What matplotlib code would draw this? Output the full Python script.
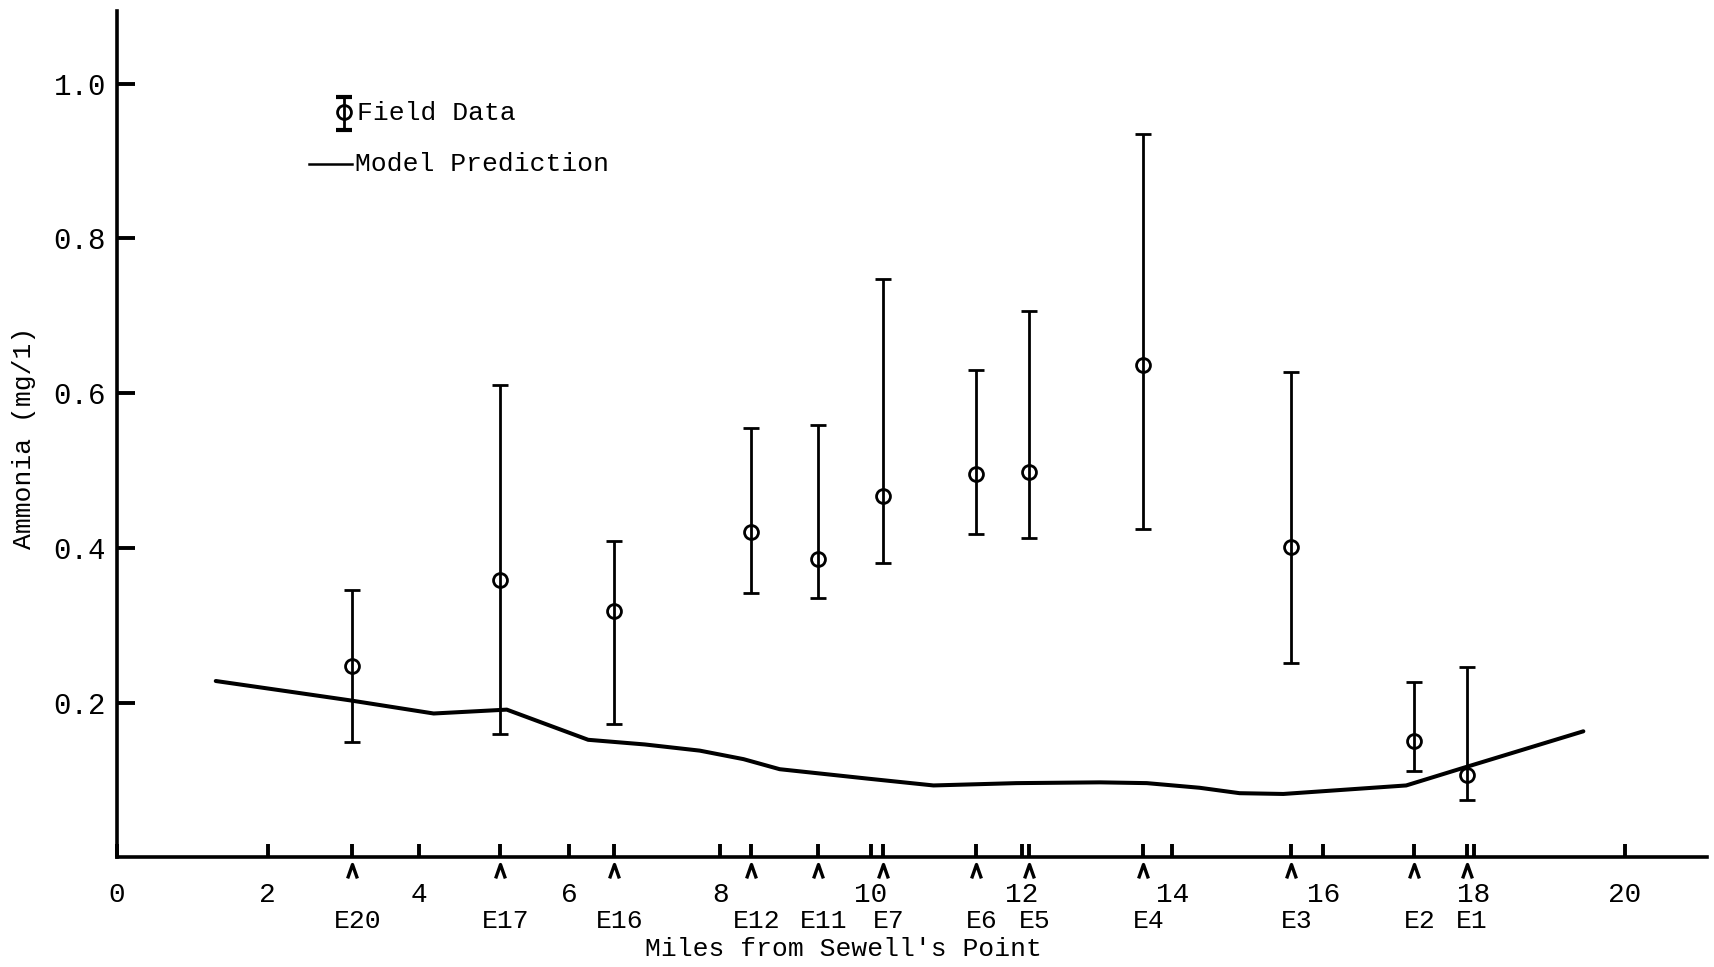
import matplotlib
matplotlib.use("Agg")
import matplotlib.pyplot as plt

# Sampling stations along the river (miles from Sewell's Point)
stations = ["E20", "E17", "E16", "E12", "E11", "E7", "E6", "E5", "E4", "E3", "E2", "E1"]
station_mile = [3.12, 5.08, 6.59, 8.41, 9.30, 10.16, 11.39, 12.10, 13.61, 15.57, 17.21, 17.90]

# Field data: mean ammonia with observed range (mg/l)
field_mean = [0.248, 0.359, 0.319, 0.420, 0.386, 0.467, 0.495, 0.498, 0.637, 0.401, 0.150, 0.107]
field_high = [0.345, 0.610, 0.409, 0.555, 0.559, 0.748, 0.630, 0.706, 0.935, 0.628, 0.227, 0.246]
field_low = [0.149, 0.160, 0.172, 0.342, 0.335, 0.380, 0.418, 0.413, 0.424, 0.251, 0.112, 0.074]

# Model prediction profile
model_mile = [1.31, 1.81, 2.38, 3.09, 4.20, 5.17, 6.25, 7.00, 7.73, 8.31, 8.79, 9.94,
              10.83, 11.93, 13.04, 13.66, 14.36, 14.89, 15.47, 17.10, 17.90, 19.45]
model_val = [0.228, 0.221, 0.213, 0.203, 0.186, 0.191, 0.152, 0.146, 0.138, 0.127, 0.114, 0.102,
             0.093, 0.096, 0.097, 0.096, 0.090, 0.083, 0.082, 0.093, 0.117, 0.163]

mile_ticks = list(range(0, 21, 2))
mile_labels = [str(m) for m in mile_ticks]
conc_ticks = [0.2, 0.4, 0.6, 0.8, 1.0]
conc_labels = ["0.2", "0.4", "0.6", "0.8", "1.0"]

plt.rcParams["font.family"] = ["Liberation Mono", "DejaVu Sans Mono"]

W, H = 1714, 967
fig = plt.figure(figsize=(W / 100, H / 100), dpi=100)
ax_left, ax_bottom, ax_right, ax_top = 117, 857.4, 1707, 11
ax = fig.add_axes([ax_left / W, 1 - ax_bottom / H, (ax_right - ax_left) / W, (ax_bottom - ax_top) / H])

ax.set_xlim(0, 21.09)
ax.set_ylim(0, 1.094)

# Model curve
ax.plot(model_mile, model_val, color="black", lw=2.9,
        solid_joinstyle="round", solid_capstyle="round", zorder=3)

# Field data with range bars
yerr = [[m - l for m, l in zip(field_mean, field_low)],
        [h - m for m, h in zip(field_mean, field_high)]]
ax.errorbar(station_mile, field_mean, yerr=yerr, fmt="o", color="black",
            mfc="none", mec="black", ms=10, mew=2.0, elinewidth=2.0,
            capsize=5.5, capthick=3.0, zorder=4)

# Axes styling
for side in ("top", "right"):
    ax.spines[side].set_visible(False)
for side in ("left", "bottom"):
    ax.spines[side].set_linewidth(2.6)

ax.set_xticks(mile_ticks)
ax.set_xticklabels(mile_labels)
ax.set_xticks(station_mile, minor=True)
ax.tick_params(axis="x", which="both", direction="in", length=9.5, width=2.8,
               pad=17.5, labelsize=20)
ax.set_yticks(conc_ticks)
ax.set_yticklabels(conc_labels)
ax.tick_params(axis="y", direction="in", length=13, width=2.8, pad=8, labelsize=21)

# Station carets and names below the axis
xt = ax.get_xaxis_transform()
caret = [(-0.7, -1.0), (0.0, 1.0), (0.7, -1.0)]
ax.plot(station_mile, [-0.0165] * len(station_mile), transform=xt, ls="none",
        marker=caret, ms=10, mfc="none", mec="black", mew=2.4, clip_on=False)
for m, name in zip(station_mile, stations):
    ax.annotate(name, xy=(m, 0), xycoords=xt, xytext=(4, -45.5), textcoords="offset points",
                ha="center", va="center", fontsize=19)

ax.text(0.457, -0.108, "Miles from Sewell's Point", transform=ax.transAxes,
        ha="center", va="center", fontsize=19)
ax.text(-0.0585, 0.4955, "Ammonia (mg/1)", transform=ax.transAxes, rotation=90,
        ha="center", va="center", fontsize=19)

# Legend key
lx = 0.1428
ax.plot([lx, lx], [0.8594, 0.8984], transform=ax.transAxes, color="black", lw=2.0, clip_on=False)
ax.plot([lx, lx], [0.8594, 0.8984], transform=ax.transAxes, ls="none", marker="_",
        ms=11, mew=3.0, color="black", clip_on=False)
ax.plot([lx], [0.8810], transform=ax.transAxes, marker="o", ms=10, mfc="none",
        mec="black", mew=2.0, clip_on=False)
ax.text(0.151, 0.8795, "Field Data", transform=ax.transAxes, ha="left", va="center", fontsize=19)
ax.plot([0.1208, 0.1478], [0.8192, 0.8192], transform=ax.transAxes, color="black", lw=1.8)
ax.text(0.1497, 0.8192, "Model Prediction", transform=ax.transAxes, ha="left", va="center", fontsize=19)

fig.savefig("out.png", dpi=100, facecolor="white")
